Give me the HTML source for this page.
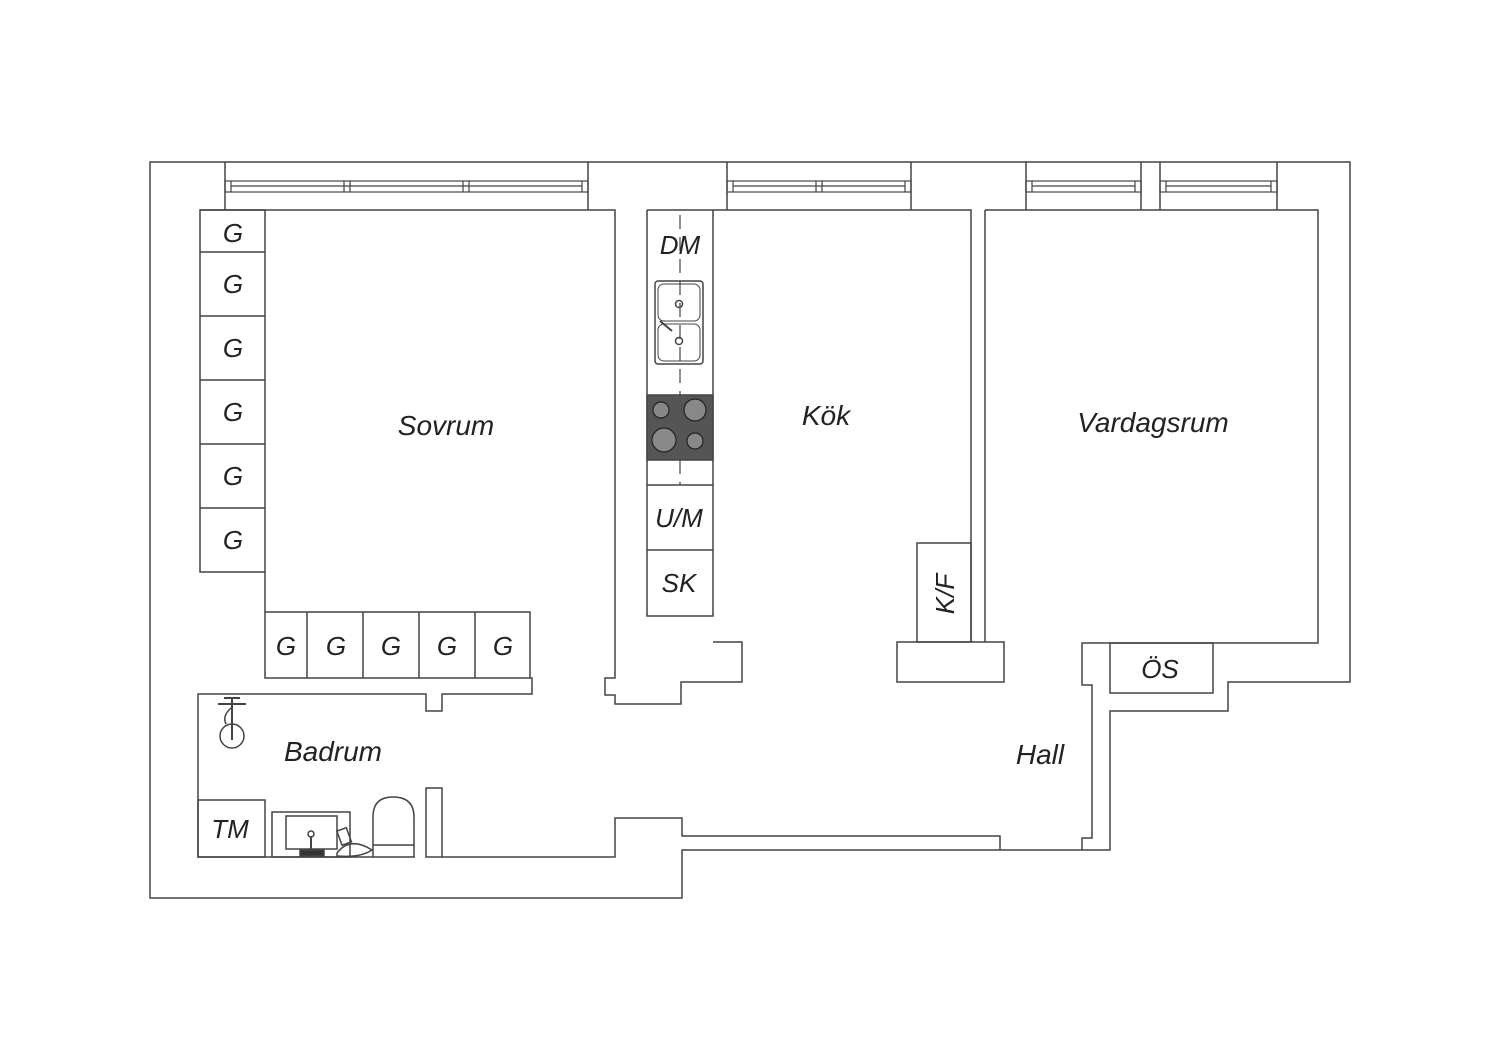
<!DOCTYPE html>
<html><head><meta charset="utf-8"><style>
html,body{margin:0;padding:0;background:#fff;}
svg{display:block;}
text{font-family:"Liberation Sans",sans-serif;font-style:italic;fill:#222;}
</style></head><body>
<svg width="1500" height="1060" viewBox="0 0 1500 1060" xmlns="http://www.w3.org/2000/svg">
<g fill="none" stroke="#444" stroke-width="1.5">
<path d="M150,162 H1350 V682 H1228 V711 H1110 V850 H682 V898 H150 Z" fill="#fff"/>
<path d="M225,162V210 M588,162V210 M727,162V210 M911,162V210 M1026,162V210 M1141,162V210 M1160,162V210 M1277,162V210"/>
<g stroke-width="1.2">
<rect x="225" y="181" width="363" height="11"/><path d="M231,186H582 M231,181V192 M582,181V192 M344,181V192 M350,181V192 M463,181V192 M469,181V192"/>
<rect x="727" y="181" width="184" height="11"/><path d="M733,186H905 M733,181V192 M905,181V192 M816,181V192 M822,181V192"/>
<rect x="1026" y="181" width="115" height="11"/><path d="M1032,186H1135 M1032,181V192 M1135,181V192"/>
<rect x="1160" y="181" width="117" height="11"/><path d="M1166,186H1271 M1166,181V192 M1271,181V192"/>
</g>
<path d="M200,210 H615 V678 H605 V695 H615 V704 H681 V682 H742 V642 H713"/>
<rect x="200" y="210" width="65" height="362"/>
<path d="M200,252H265 M200,316H265 M200,380H265 M200,444H265 M200,508H265"/>
<path d="M265,572V612"/>
<rect x="265" y="612" width="265" height="66"/>
<path d="M307,612V678 M363,612V678 M419,612V678 M475,612V678"/>
<path d="M530,678H532V694H442V711H426V694H198V857H415 M442,857H615V818H682V836H1000V850"/>
<path d="M647,210V616H713V210 M647,485H713 M647,550H713 M647,210H971V543"/>
<path d="M680,215V395 M680,460V485" stroke-dasharray="14,8" stroke-width="1.2"/>
<rect x="655" y="281" width="48" height="83" rx="3"/>
<rect x="658" y="284" width="42" height="37" rx="6" stroke-width="1"/>
<rect x="658" y="324" width="42" height="37" rx="6" stroke-width="1"/>
<circle cx="679" cy="304" r="3.5"/><circle cx="679" cy="341" r="3.5"/>
<path d="M660,321 L672,331" stroke-width="2"/>
<rect x="647" y="395" width="66" height="65" fill="#555"/>
<g fill="#888" stroke="#222" stroke-width="1.2">
<circle cx="661" cy="410" r="8"/><circle cx="695" cy="410" r="11"/>
<circle cx="664" cy="440" r="12"/><circle cx="695" cy="441" r="8"/>
</g>
<rect x="917" y="543" width="54" height="99"/>
<path d="M971,543V642 M985,210V642 M897,642H1004V682H897Z"/>
<path d="M985,210H1318V643H1082V685H1092V838H1082V850"/>
<rect x="1110" y="643" width="103" height="50"/>
<rect x="198" y="800" width="67" height="57"/>
<rect x="272" y="812" width="78" height="45"/>
<rect x="286" y="816" width="51" height="33"/>
<path d="M311,857V836" stroke-width="2"/><circle cx="311" cy="834" r="3"/>
<rect x="300" y="850" width="24" height="6" fill="#333"/>
<path d="M337,853 Q350,836 372,850 Q360,858 337,856Z"/>
<rect x="339" y="829" width="10" height="15" transform="rotate(-20 344 836)"/>
<path d="M373,857V817 Q373,797 393,797 Q414,797 414,817V857 M373,845H414"/>
<rect x="426" y="788" width="16" height="69"/>
<circle cx="232" cy="736" r="12"/>
<path d="M232,698V740 M218,704H246 M224,698H240" stroke-width="2"/>
<path d="M231,708 Q222,716 226,724"/>
</g>
<g font-size="28" text-anchor="middle">
<text x="446" y="435">Sovrum</text>
<text x="826" y="425">Kök</text>
<text x="1153" y="432">Vardagsrum</text>
<text x="333" y="761">Badrum</text>
<text x="1040" y="764">Hall</text>
</g>
<g font-size="26" text-anchor="middle">
<text x="233" y="242">G</text><text x="233" y="293">G</text><text x="233" y="357">G</text>
<text x="233" y="421">G</text><text x="233" y="485">G</text><text x="233" y="549">G</text>
<text x="286" y="655">G</text><text x="336" y="655">G</text><text x="391" y="655">G</text>
<text x="447" y="655">G</text><text x="503" y="655">G</text>
<text x="680" y="254">DM</text>
<text x="679" y="527">U/M</text>
<text x="679" y="592">SK</text>
<text x="230" y="838">TM</text>
<text x="1160" y="678">ÖS</text>
<text x="0" y="0" transform="translate(954,594) rotate(-90)">K/F</text>
</g>
</svg>
</body></html>
